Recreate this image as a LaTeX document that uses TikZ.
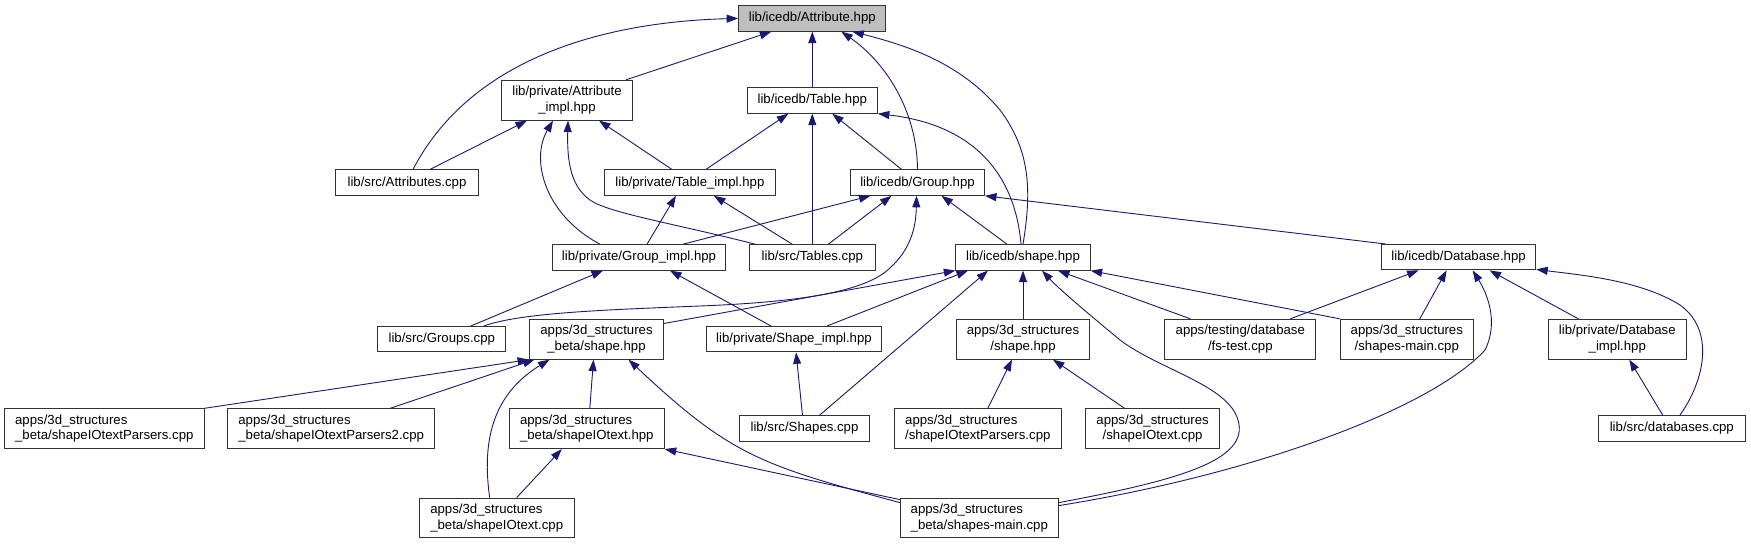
\documentclass[tikz,border=0pt]{standalone}
\usepackage{fontspec}
\setmainfont{Liberation Sans}
\usetikzlibrary{arrows.meta}
\definecolor{navy}{HTML}{191970}
\definecolor{rootgray}{HTML}{BFBFBF}
\begin{document}
\begin{tikzpicture}[x=1pt,y=-1pt,
  nodebox/.style={draw=black!80, line width=1pt, fill=white, inner sep=0pt, minimum height=25.4pt, font=\fontsize{13.2}{15.5}\selectfont},
  nodebox2/.style={nodebox, minimum height=39.8pt},
  dep/.style={draw=navy, line width=0.9pt, -{Triangle[length=11.5pt,width=8pt]}},
]
\fill[white] (0,0) rectangle (1751,544);
\useasboundingbox (0,0) rectangle (1751,544);

% rank 0
\node[nodebox, fill=rootgray, minimum width=147.3pt] (att) at (812.3,18.4) {lib/icedb/Attribute.hpp};
% rank 1
\node[nodebox2, align=center, minimum width=130.7pt] (attimpl) at (567,100.2) {lib/private/Attribute\\\_impl.hpp};
\node[nodebox, minimum width=130.1pt] (table) at (812.3,100.5) {lib/icedb/Table.hpp};
% rank 2
\node[nodebox, minimum width=142.7pt] (attcpp) at (407,182.6) {lib/src/Attributes.cpp};
\node[nodebox, minimum width=170.7pt] (tableimpl) at (689.9,182.6) {lib/private/Table\_impl.hpp};
\node[nodebox, minimum width=134pt] (group) at (917.5,182.6) {lib/icedb/Group.hpp};
% rank 3
\node[nodebox, minimum width=173.2pt] (groupimpl) at (639,257.4) {lib/private/Group\_impl.hpp};
\node[nodebox, minimum width=125.5pt] (tables) at (812.3,257.4) {lib/src/Tables.cpp};
\node[nodebox, minimum width=134.3pt] (shape) at (1023,257.4) {lib/icedb/shape.hpp};
\node[nodebox, minimum width=154.2pt] (database) at (1458.6,257.2) {lib/icedb/Database.hpp};
% rank 4
\node[nodebox, minimum width=128.2pt] (groups) at (441.8,339.2) {lib/src/Groups.cpp};
\node[nodebox2, align=center, minimum width=133.8pt] (bshape) at (596.5,339.2) {apps/3d\_structures\\\_beta/shape.hpp};
\node[nodebox, minimum width=174.5pt] (shapeimpl) at (794,339.2) {lib/private/Shape\_impl.hpp};
\node[nodebox2, align=center, minimum width=132.8pt] (sshape) at (1023,339.2) {apps/3d\_structures\\/shape.hpp};
\node[nodebox2, align=center, minimum width=150.8pt] (fstest) at (1240.3,339.2) {apps/testing/database\\/fs-test.cpp};
\node[nodebox2, align=center, minimum width=133.2pt] (smain) at (1406.8,339.2) {apps/3d\_structures\\/shapes-main.cpp};
\node[nodebox2, align=center, minimum width=138.5pt] (dbimpl) at (1617.3,339.2) {lib/private/Database\\\_impl.hpp};
% rank 5
\node[nodebox2, align=left, minimum width=199.4pt] (bparsers) at (104.3,428.7) {apps/3d\_structures\\\_beta/shapeIOtextParsers.cpp};
\node[nodebox2, align=left, minimum width=207pt] (bparsers2) at (331.2,428.7) {apps/3d\_structures\\\_beta/shapeIOtextParsers2.cpp};
\node[nodebox2, align=left, minimum width=154.9pt] (biotexthpp) at (586.8,428.7) {apps/3d\_structures\\\_beta/shapeIOtext.hpp};
\node[nodebox, minimum width=130.5pt] (shapes) at (804.5,428.5) {lib/src/Shapes.cpp};
\node[nodebox2, align=left, minimum width=166.5pt] (sparsers) at (977.8,428.7) {apps/3d\_structures\\/shapeIOtextParsers.cpp};
\node[nodebox2, align=center, minimum width=133.4pt] (siotext) at (1152.6,428.7) {apps/3d\_structures\\/shapeIOtext.cpp};
\node[nodebox, minimum width=147.3pt] (databases) at (1671.8,428.5) {lib/src/databases.cpp};
% rank 6
\node[nodebox2, align=left, minimum width=154.6pt] (biotextcpp) at (496.7,518) {apps/3d\_structures\\\_beta/shapeIOtext.cpp};
\node[nodebox2, align=left, minimum width=158pt] (bmain) at (979.3,518) {apps/3d\_structures\\\_beta/shapes-main.cpp};

% edges into Attribute.hpp
\draw[dep] ([xshift=6pt]attcpp.north) .. controls (470,60) and (600,22) .. (att.west);
\draw[dep] ([xshift=59pt]attimpl.north) -- ([xshift=-41pt]att.south);
\draw[dep] (table.north) -- (att.south);
\draw[dep] (group.north) .. controls (917,110) and (885,62) .. ([xshift=29pt]att.south);
\draw[dep] (shape.north) .. controls (1032,190) and (1030,150) .. (1000,110) .. controls (960,62) and (905,45) .. ([xshift=40pt]att.south);
% edges into Attribute_impl
\draw[dep] ([xshift=23pt]attcpp.north) -- ([xshift=-40pt]attimpl.south);
\draw[dep] ([xshift=-39pt]groupimpl.north) .. controls (545,215) and (530,160) .. ([xshift=-14pt]attimpl.south);
\draw[dep] ([xshift=-57pt]tables.north) .. controls (680,225) and (620,215) .. (595,203) .. controls (570,190) and (567,160) .. ([xshift=1pt]attimpl.south);
\draw[dep] ([xshift=-18pt]tableimpl.north) -- ([xshift=32pt]attimpl.south);
% edges into Table.hpp
\draw[dep] ([xshift=16pt]tableimpl.north) -- ([xshift=-24pt]table.south);
\draw[dep] (tables.north) -- (table.south);
\draw[dep] ([xshift=-16pt]group.north) -- ([xshift=20pt]table.south);
\draw[dep] ([xshift=-2pt]shape.north) .. controls (1015,175) and (975,125) .. (table.south east);
% edges into Table_impl
\draw[dep] ([xshift=8pt]groupimpl.north) -- ([xshift=-14pt]tableimpl.south);
\draw[dep] ([xshift=-20pt]tables.north) -- ([xshift=24pt]tableimpl.south);
% edges into Group.hpp
\draw[dep] ([xshift=44pt]groupimpl.north) -- ([xshift=-47pt]group.south);
\draw[dep] ([xshift=16pt]tables.north) -- ([xshift=-26pt]group.south);
\draw[dep] ([xshift=42pt]groups.north) .. controls (520,313) and (600,310) .. (700,306) .. controls (800,302) and (865,292) .. (890,268) .. controls (912,248) and (916,225) .. ([xshift=-1pt]group.south);
\draw[dep] ([xshift=-16pt]shape.north) -- ([xshift=24pt]group.south);
\draw[dep] ([xshift=-73pt]database.north) -- (group.south east);
% edges into Group_impl
\draw[dep] ([xshift=29pt]groups.north) -- ([xshift=-36pt]groupimpl.south);
\draw[dep] ([xshift=-23pt]shapeimpl.north) -- ([xshift=31pt]groupimpl.south);
% edges into lib/icedb/shape.hpp
\draw[dep] ([yshift=-4.7pt]bshape.north east) -- (shape.south west);
\draw[dep] ([xshift=33pt]shapeimpl.north) -- ([xshift=-55pt]shape.south);
\draw[dep] ([xshift=15pt]shapes.north) -- ([xshift=-35pt]shape.south);
\draw[dep] (sshape.north) -- (shape.south);
\draw[dep] ([yshift=-5pt]bmain.north east) .. controls (1180,480) and (1250,460) .. (1238,420) .. controls (1228,385) and (1160,370) .. (1120,340) .. controls (1090,315) and (1060,290) .. ([xshift=19pt]shape.south);
\draw[dep] ([xshift=-50pt]fstest.north) -- ([xshift=35pt]shape.south);
\draw[dep] (smain.north west) -- (shape.south east);
% edges into Database.hpp
\draw[dep] ([xshift=50pt]fstest.north) -- ([xshift=-40pt]database.south);
\draw[dep] ([xshift=13pt]smain.north) -- ([xshift=-12pt]database.south);
\draw[dep] ([yshift=-8pt]bmain.north east) .. controls (1250,475) and (1430,410) .. (1485,350) .. controls (1500,320) and (1485,290) .. ([xshift=14pt]database.south);
\draw[dep] ([xshift=-39pt]dbimpl.north) -- ([xshift=31pt]database.south);
\draw[dep] ([xshift=8pt]databases.north) .. controls (1705,380) and (1715,330) .. (1680,305) .. controls (1640,280) and (1580,275) .. ([yshift=1pt]database.south east);
% edges into Database_impl
\draw[dep] ([xshift=-9pt]databases.north) -- ([xshift=12pt]dbimpl.south);
% edges into beta/shape.hpp
\draw[dep] (bparsers.north east) -- (bshape.south west);
\draw[dep] ([xshift=59pt]bparsers2.north) -- ([xshift=-62pt]bshape.south);
\draw[dep] ([xshift=-7pt]biotextcpp.north) .. controls (480,430) and (500,390) .. ([xshift=-47pt]bshape.south);
\draw[dep] ([xshift=3pt]biotexthpp.north) -- ([xshift=-3pt]bshape.south);
\draw[dep] ([yshift=-5pt]bmain.north west) .. controls (760,465) and (730,455) .. ([xshift=32pt]bshape.south);
% edges into beta/shapeIOtext.hpp
\draw[dep] ([xshift=20pt]biotextcpp.north) -- ([xshift=-25pt]biotexthpp.south);
\draw[dep] ([yshift=-2pt]bmain.north west) -- (biotexthpp.south east);
% edges into Shape_impl
\draw[dep] ([xshift=-2pt]shapes.north) -- ([xshift=2pt]shapeimpl.south);
% edges into apps/3d_structures/shape.hpp
\draw[dep] ([xshift=10pt]sparsers.north) -- ([xshift=-11pt]sshape.south);
\draw[dep] ([xshift=-28pt]siotext.north) -- ([xshift=30pt]sshape.south);
\end{tikzpicture}
\end{document}
